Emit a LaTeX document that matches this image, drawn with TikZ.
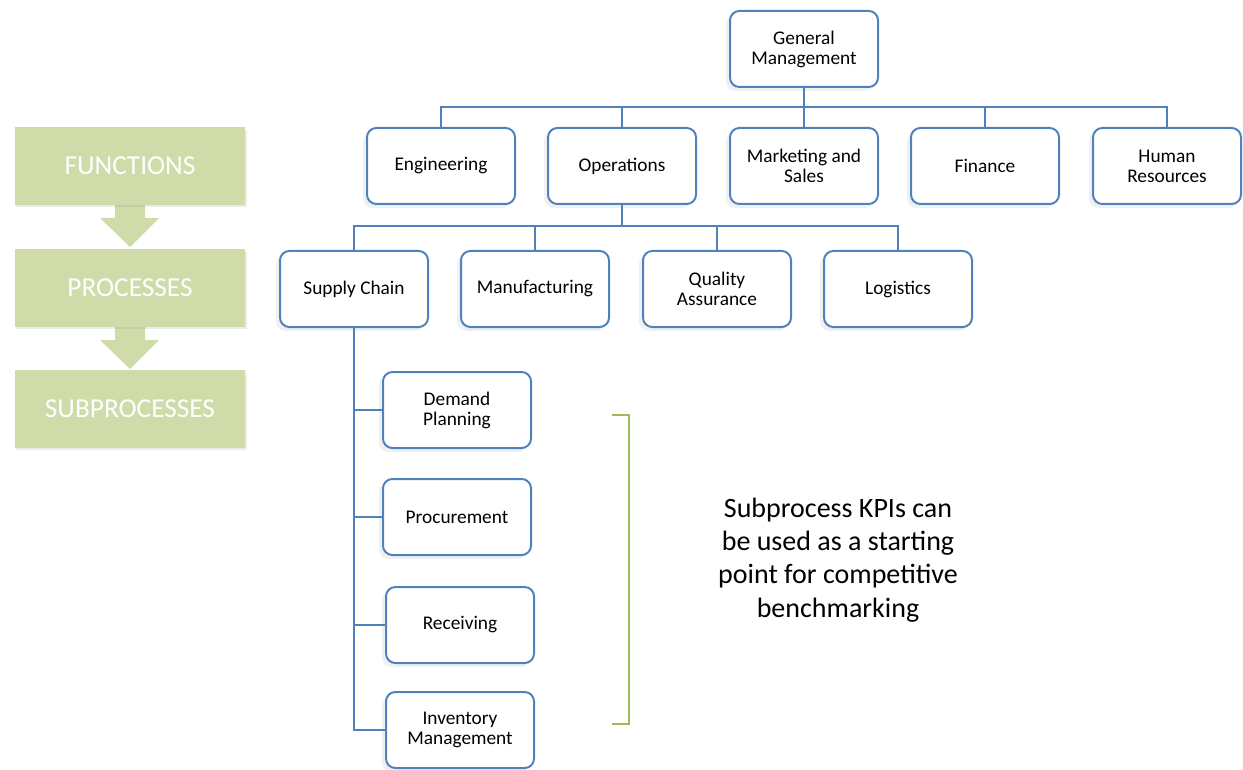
\documentclass[tikz,border=0pt]{standalone}
\usepackage{fontspec}
\setmainfont{Carlito}
\usetikzlibrary{positioning}
\usetikzlibrary{shadows}
\definecolor{orgblue}{RGB}{79,129,189}
\definecolor{levelgreen}{RGB}{207,220,170}
\definecolor{bracketgreen}{RGB}{155,187,89}

\begin{document}
\begin{tikzpicture}[x=0.75pt,y=-0.75pt,
  orgbox/.style={draw=orgblue,line width=1.5pt,rounded corners=7pt,fill=white,
    minimum width=111pt,minimum height=57pt,align=center,
    font=\fontsize{14.5}{15}\selectfont,
    drop shadow={shadow xshift=-3pt,shadow yshift=-3pt,opacity=.12}},
  levelbox/.style={fill=levelgreen,minimum width=173pt,minimum height=58pt,
    text=white,font=\fontsize{20.5}{24}\selectfont,
    drop shadow={shadow xshift=1pt,shadow yshift=-2pt,opacity=.15}},
  levelarrow/.style={fill=levelgreen},
  link/.style={draw=orgblue,line width=1.1pt}]
\useasboundingbox (0,0) rectangle (1243,770);

% levels on the left
\fill[levelarrow] (115,205) -- (145,205) -- (145,218) -- (159,218) -- (130,247) -- (100,218) -- (115,218) -- cycle;
\fill[levelarrow] (115,327) -- (145,327) -- (145,340) -- (159,340) -- (130,369) -- (100,340) -- (115,340) -- cycle;

\node[levelbox] (Lfun) at (130,166) {FUNCTIONS};
\node[levelbox] (Lproc) at (130,288) {PROCESSES};
\node[levelbox] (Lsub) at (130,409) {SUBPROCESSES};

% functions
\node[orgbox] (GM) at (804,49) {General\\Management};

\node[orgbox] (Eng) at (441,166) {Engineering};
\node[orgbox] (Ops) at (622,166) {Operations};
\node[orgbox] (Mkt) at (804,166) {Marketing and\\Sales};
\node[orgbox] (Fin) at (985,166) {Finance};
\node[orgbox] (HR) at (1167,166) {Human\\Resources};

\coordinate (busF) at (804,107);
\draw[link] (GM) -- (busF);
\draw[link] (busF) -| (Eng);
\draw[link] (busF) -| (Ops);
\draw[link] (busF) -- (Mkt);
\draw[link] (busF) -| (Fin);
\draw[link] (busF) -| (HR);

% processes
\node[orgbox] (SC) at (354,289) {Supply Chain};
\node[orgbox] (Mfg) at (535,289) {Manufacturing};
\node[orgbox] (QA) at (717,289) {Quality\\Assurance};
\node[orgbox] (Log) at (898,289) {Logistics};

\coordinate (busP) at (622,226);
\draw[link] (Ops) -- (busP);
\draw[link] (busP) -| (SC);
\draw[link] (busP) -| (Mfg);
\draw[link] (busP) -| (QA);
\draw[link] (busP) -| (Log);

% subprocesses
\node[orgbox] (DP) at (457,410) {Demand\\Planning};
\node[orgbox] (Proc) at (457,517) {Procurement};
\node[orgbox] (Rec) at (460,625) {Receiving};
\node[orgbox] (Inv) at (460,730) {Inventory\\Management};

\draw[link] (SC) |- (DP);
\draw[link] (SC) |- (Proc);
\draw[link] (SC) |- (Rec);
\draw[link] (SC) |- (Inv);

% bracket and note
\draw[bracketgreen,line width=1.5pt] (612,415) -- (629,415) -- (629,724) -- (612,724);
\node[align=center,font=\fontsize{21}{25}\selectfont] (kpi) at (838,560)
  {Subprocess KPIs can\\be used as a starting\\point for competitive\\benchmarking};

\end{tikzpicture}
\end{document}
